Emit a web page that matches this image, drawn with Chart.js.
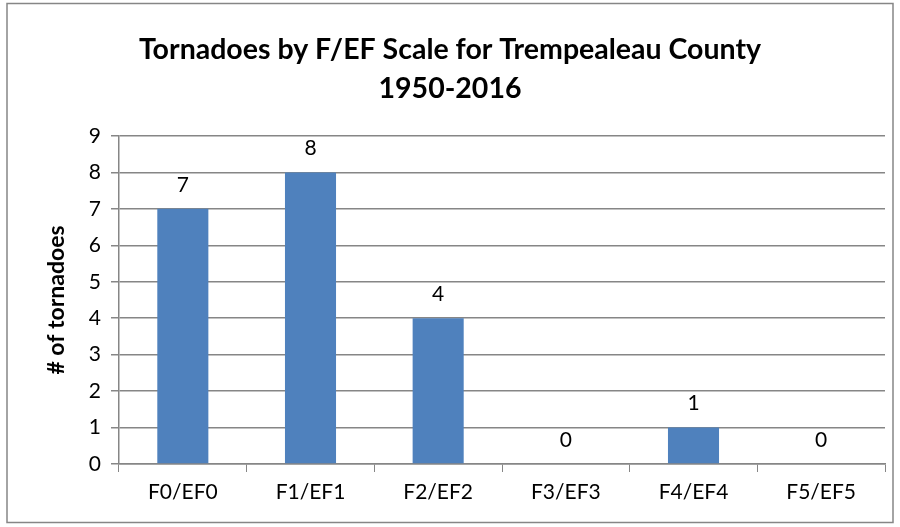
<!DOCTYPE html>
<html lang="en">
<head>
    <meta charset="UTF-8">
    <title>Tornadoes by F/EF Scale for Trempealeau County</title>
    <script src="https://cdn.jsdelivr.net/npm/chart.js"></script>
    <style>
        body { margin: 0; background: #fff; }
        #wrap { position: relative; width: 900px; height: 527px; }
    </style>
</head>
<body>
    <div id="wrap"><canvas id="tornadoChart" width="900" height="527"></canvas></div>
    <script>
        const categories = ['F0/EF0', 'F1/EF1', 'F2/EF2', 'F3/EF3', 'F4/EF4', 'F5/EF5'];
        const tornadoCounts = [7, 8, 4, 0, 1, 0];
        const yTicks = [0, 1, 2, 3, 4, 5, 6, 7, 8, 9];
        const titleLines = ['Tornadoes by F/EF Scale for Trempealeau County', '1950-2016'];

        const fontFamily = 'Lato, "Open Sans", sans-serif';
        const gridGray = '#868686';

        // outer frame, centred title, value labels over bars
        const extras = {
            id: 'extras',
            afterLayout(chart) {
                // centre the title on the whole canvas, not on the padded area
                if (chart.titleBlock) {
                    chart.titleBlock.left = 0;
                    chart.titleBlock.right = chart.width;
                    chart.titleBlock.width = chart.width;
                }
            },
            beforeDraw(chart) {
                const c = chart.ctx;
                c.save();
                c.fillStyle = '#fff';
                c.fillRect(0, 0, chart.width, chart.height);
                c.strokeStyle = gridGray;
                c.lineWidth = 1.5;
                c.strokeRect(7, 3.5, 886, 519);
                c.restore();
            },
            afterDatasetsDraw(chart) {
                const c = chart.ctx;
                const meta = chart.getDatasetMeta(0);
                c.save();
                c.font = '21px ' + fontFamily;
                c.fillStyle = '#000';
                c.textAlign = 'center';
                c.textBaseline = 'middle';
                meta.data.forEach((bar, i) => {
                    c.fillText(String(tornadoCounts[i]), bar.x, bar.y - 24);
                });
                c.restore();
            }
        };

        new Chart(document.getElementById('tornadoChart'), {
            type: 'bar',
            data: {
                labels: categories,
                datasets: [{
                    data: tornadoCounts,
                    backgroundColor: '#4F81BD',
                    borderWidth: 0,
                    categoryPercentage: 0.8,
                    barPercentage: 0.5
                }]
            },
            options: {
                responsive: false,
                animation: false,
                layout: { padding: { top: 0, right: 15, bottom: 0, left: 0 } },
                plugins: {
                    legend: { display: false },
                    tooltip: { enabled: false },
                    title: {
                        display: true,
                        text: titleLines,
                        color: '#000',
                        font: { family: fontFamily, size: 28.5, weight: 'bold', lineHeight: 1.35 },
                        padding: { top: 31, bottom: 28 }
                    }
                },
                scales: {
                    x: {
                        grid: { drawOnChartArea: false, drawTicks: true, tickLength: 8, color: gridGray, offset: true },
                        border: { color: gridGray, width: 1.5 },
                        ticks: { color: '#000', font: { family: fontFamily, size: 21 }, padding: 8 },
                        afterFit(scale) { scale.height = 527 - 464; }
                    },
                    y: {
                        min: 0,
                        max: 9,
                        afterBuildTicks(scale) { scale.ticks = yTicks.map(v => ({ value: v })); },
                        grid: { color: gridGray, lineWidth: 1.5, tickLength: 8 },
                        border: { color: gridGray, width: 1.5 },
                        ticks: { color: '#000', font: { family: fontFamily, size: 21 }, padding: 10 },
                        title: {
                            display: true,
                            text: '# of tornadoes',
                            color: '#000',
                            font: { family: fontFamily, size: 23, weight: 'bold', lineHeight: 1.2 },
                            padding: { top: 43, bottom: 0 }
                        },
                        afterFit(scale) { scale.width = 119; }
                    }
                }
            },
            plugins: [extras]
        });
    </script>
</body>
</html>
